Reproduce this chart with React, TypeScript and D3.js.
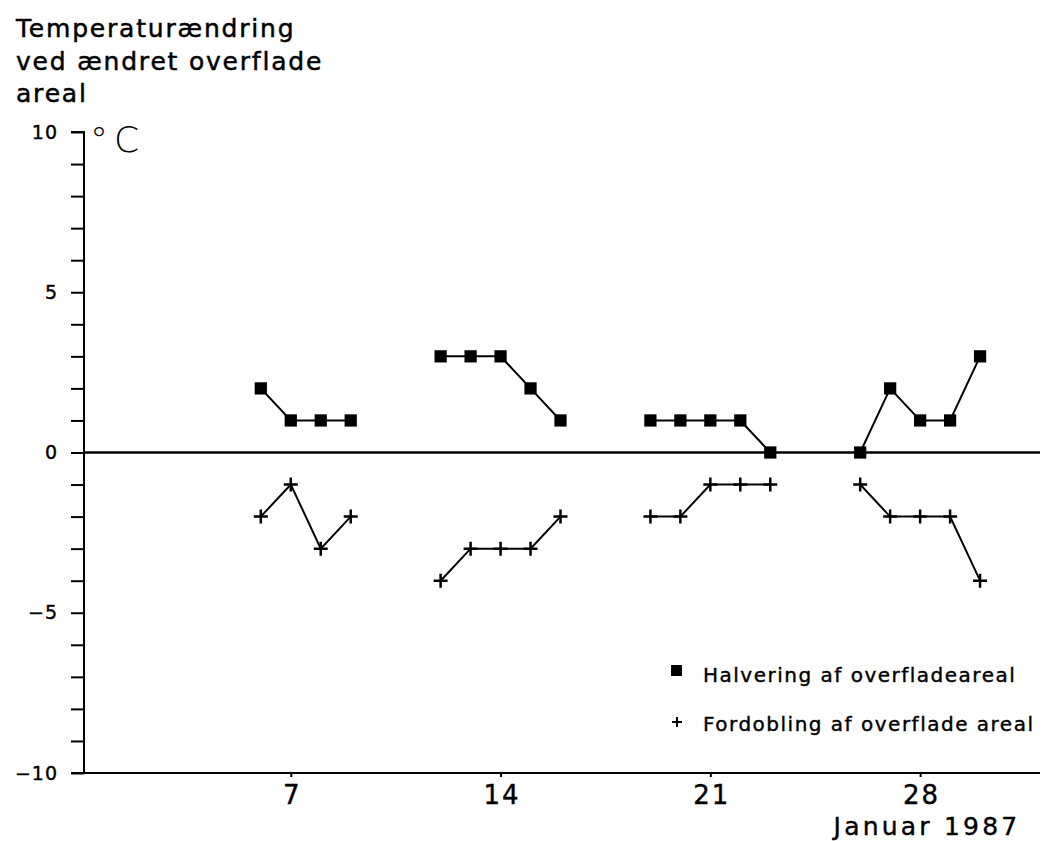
import { useRef, useEffect } from "react";
import * as d3 from "d3";

// dage i januar 1987
const days = [6, 7, 8, 9, 10, 11, 12, 13, 14, 15, 16, 17, 18, 19, 20, 21, 22, 23, 24, 25, 26, 27, 28, 29, 30];
// Halvering af overfladeareal (null = ingen måling)
const halvering = [2, 1, 1, 1, null, null, 3, 3, 3, 2, 1, null, null, 1, 1, 1, 1, 0, null, null, 0, 2, 1, 1, 3];
// Fordobling af overflade areal
const fordobling = [-2, -1, -3, -2, null, null, -4, -3, -3, -3, -2, null, null, -2, -2, -1, -1, -1, null, null, -1, -2, -2, -2, -4];

const xTicks = [7, 14, 21, 28];
const yTicks = [-10, -5, 0, 5, 10];
const titleLines = ["Temperaturændring", "ved ændret overflade", "areal"];
const legendLabels = ["Halvering af overfladeareal", "Fordobling af overflade areal"];

const FONT = "'DejaVu Sans', sans-serif";

export default function App() {
  const ref = useRef<SVGSVGElement>(null);

  useEffect(() => {
    const svg = d3.select(ref.current);
    svg.selectAll("*").remove();

    const width = 1056;
    const height = 841;

    const x = d3.scaleLinear().domain([0.1, 32]).range([84, 1040]);
    const y = d3.scaleLinear().domain([-10, 10]).range([773, 132]);

    svg
      .attr("width", width)
      .attr("height", height)
      .style("display", "block")
      .style("position", "absolute")
      .style("left", "0")
      .style("top", "0");
    svg.append("rect").attr("width", width).attr("height", height).attr("fill", "#fff");

    // plotter-agtig tekst: lidt kraftigere streg
    const ink = (sel: any, w = 0.5) => sel.attr("fill", "#000").attr("stroke", "#000").attr("stroke-width", w);

    // titel
    svg
      .append("g")
      .selectAll("text")
      .data(titleLines)
      .enter()
      .append("text")
      .attr("x", 16)
      .attr("y", (d, i) => 37 + i * 32.5)
      .style("font-family", FONT)
      .style("font-size", "25px")
      .style("letter-spacing", "1.8px")
      .call(ink)
      .text((d) => d);

    // y-akse med små streger for hver grad
    const yAxis = d3
      .axisLeft(y)
      .tickValues(d3.range(-10, 11, 1))
      .tickSize(13)
      .tickFormat((d) => (yTicks.includes(+d) ? d3.format("")(+d).replace("-", "−") : ""));
    const gy = svg.append("g").attr("transform", `translate(${x.range()[0]},0)`).call(yAxis);
    gy.select(".domain").attr("stroke", "#000").attr("stroke-width", 2).attr("d", `M-13,${y(10)}H0V${y(-10)}`);
    gy.selectAll(".tick line").attr("stroke", "#000").attr("stroke-width", 2);
    gy.selectAll(".tick text")
      .attr("x", -26)
      .style("font-family", FONT)
      .style("font-size", "19px")
      .style("letter-spacing", "1px")
      .call(ink, 0.4);

    // x-akse
    const xAxis = d3.axisBottom(x).tickValues(xTicks).tickSize(4).tickFormat(d3.format("d"));
    const gx = svg.append("g").attr("transform", `translate(0,${y(-10)})`).call(xAxis);
    gx.select(".domain").attr("stroke", "#000").attr("stroke-width", 2).attr("d", `M${x.range()[0] - 13},0H${x.range()[1]}`);
    gx.selectAll(".tick line").attr("stroke", "#000").attr("stroke-width", 2);
    gx.selectAll(".tick text")
      .attr("y", 13)
      .attr("dx", 1)
      .style("font-family", FONT)
      .style("font-size", "26px")
      .style("letter-spacing", "2px")
      .call(ink, 0.4);

    svg
      .append("text")
      .attr("x", 927)
      .attr("y", 835)
      .attr("text-anchor", "middle")
      .style("font-family", FONT)
      .style("font-size", "25px")
      .style("letter-spacing", "3.2px")
      .call(ink, 0.4)
      .text("Januar 1987");

    // enhed
    const unit = svg
      .append("text")
      .attr("y", 152)
      .style("font-family", FONT)
      .style("font-weight", 300)
      .style("font-size", "36px")
      .attr("fill", "#000");
    unit.append("tspan").attr("x", 90).text("°");
    unit.append("tspan").attr("x", 114).text("C");

    // nul-linje
    svg
      .append("line")
      .attr("x1", x.range()[0])
      .attr("x2", x.range()[1])
      .attr("y1", y(0))
      .attr("y2", y(0))
      .attr("stroke", "#000")
      .attr("stroke-width", 2.5);

    const line = d3
      .line<number | null>()
      .defined((d) => d !== null)
      .x((d, i) => x(days[i]))
      .y((d) => y(d as number));

    const plot = svg.append("g");

    plot.append("path").attr("d", line(halvering)).attr("fill", "none").attr("stroke", "#000").attr("stroke-width", 2);
    plot.append("path").attr("d", line(fordobling)).attr("fill", "none").attr("stroke", "#000").attr("stroke-width", 2);

    const sq = d3.symbol(d3.symbolSquare, 150);

    const ptsH = days.map((d, i) => [d, halvering[i]] as [number, number | null]).filter((p) => p[1] !== null);
    const ptsF = days.map((d, i) => [d, fordobling[i]] as [number, number | null]).filter((p) => p[1] !== null);

    plot
      .selectAll("path.sq")
      .data(ptsH)
      .enter()
      .append("path")
      .attr("class", "sq")
      .attr("d", sq)
      .attr("transform", (p) => `translate(${x(p[0])},${y(p[1] as number)})`)
      .attr("fill", "#000");

    const plusPath = (s: number) => `M${-s},0H${s}M0,${-s}V${s}`;
    plot
      .selectAll("path.pl")
      .data(ptsF)
      .enter()
      .append("path")
      .attr("class", "pl")
      .attr("d", plusPath(7))
      .attr("transform", (p) => `translate(${x(p[0])},${y(p[1] as number)})`)
      .attr("stroke", "#000")
      .attr("stroke-width", 2.5)
      .attr("fill", "none");

    // signaturforklaring
    const leg = svg.append("g");
    leg
      .append("rect")
      .attr("x", 671)
      .attr("y", 665)
      .attr("width", 11)
      .attr("height", 11)
      .attr("fill", "#000");
    leg
      .append("path")
      .attr("d", plusPath(5))
      .attr("transform", "translate(677,722)")
      .attr("stroke", "#000")
      .attr("stroke-width", 2);
    leg
      .selectAll("text")
      .data(legendLabels)
      .enter()
      .append("text")
      .attr("x", 703)
      .attr("y", (d, i) => 682 + i * 49)
      .style("font-family", FONT)
      .style("font-size", "20px")
      .style("letter-spacing", "1.5px")
      .call(ink, 0.4)
      .text((d) => d);
  }, []);

  return <svg ref={ref}></svg>;
}
